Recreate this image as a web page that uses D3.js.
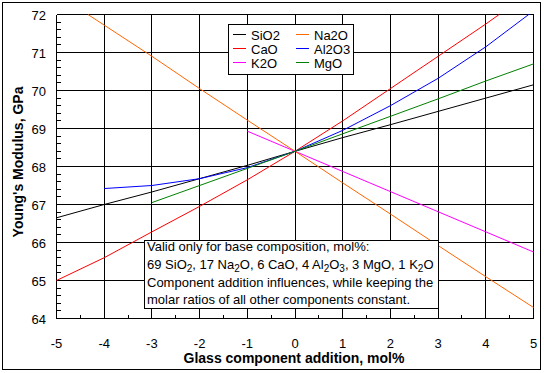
<html>
<head>
<script src="https://d3js.org/d3.v7.min.js"></script>
<style>
body { margin:0; background:#fff; }
text { font-family: "Liberation Sans", Arial, sans-serif; }
</style>
</head>
<body>
<script>
// data
var xFull  = [-5, -4, -3, -2, -1, 0, 1, 2, 3, 4, 5];
var sio2   = [66.65, 67.0, 67.33, 67.68, 68.03, 68.4, 68.76, 69.1, 69.45, 69.8, 70.15];
var caoX   = [-5, -4, -3, -2, -1, 0, 1, 2, 3, 4, 4.28];
var cao    = [65.0, 65.6, 66.28, 66.95, 67.65, 68.4, 69.2, 70.05, 70.9, 71.75, 72.0];
var na2oX  = [-4.34, -4, -3, -2, -1, 0, 1, 2, 3, 4, 5];
var na2o   = [72.0, 71.72, 70.9, 70.05, 69.22, 68.4, 67.57, 66.75, 65.92, 65.1, 64.29];
var al2o3X = [-4, -3, -2, -1, 0, 1, 2, 3, 4, 4.9];
var al2o3  = [67.42, 67.5, 67.68, 67.97, 68.4, 68.95, 69.6, 70.32, 71.15, 72.0];
var mgoX   = [-3, -2, -1, 0, 1, 2, 3, 4, 5];
var mgo    = [67.05, 67.5, 67.95, 68.4, 68.86, 69.32, 69.78, 70.25, 70.7];
var k2oX   = [-1, 0, 1, 2, 3, 4, 5];
var k2o    = [68.93, 68.4, 67.87, 67.34, 66.81, 66.28, 65.75];

var names  = ["SiO2", "CaO", "K2O", "Na2O", "Al2O3", "MgO"];
var colors = ["#000000", "#ff0000", "#ff00ff", "#ff6600", "#0000ff", "#008000"];
var seriesX = [xFull, caoX, k2oX, na2oX, al2o3X, mgoX];
var seriesY = [sio2, cao, k2o, na2o, al2o3, mgo];

var xTicks = [-5, -4, -3, -2, -1, 0, 1, 2, 3, 4, 5];
var yTicks = [64, 65, 66, 67, 68, 69, 70, 71, 72];

var w = 544, h = 373;
var svg = d3.select("body").append("svg").attr("width", w).attr("height", h);

// outer frame
svg.append("rect").attr("x", 2.5).attr("y", 2.5).attr("width", 538).attr("height", 367)
  .attr("fill", "none").attr("stroke", "#000");

var x = d3.scaleLinear().domain([-5, 5]).range([56.5, 533.5]);
var y = d3.scaleLinear().domain([64, 72]).range([318.5, 14.5]);

var g = svg.append("g").attr("shape-rendering", "crispEdges");

// grid
g.selectAll(".vg").data(xTicks).enter().append("line")
  .attr("x1", function(d){ return Math.round(x(d) - 0.5) + 0.5; })
  .attr("x2", function(d){ return Math.round(x(d) - 0.5) + 0.5; })
  .attr("y1", y(64)).attr("y2", y(72)).attr("stroke", "#000");
g.selectAll(".hg").data(yTicks).enter().append("line")
  .attr("y1", function(d){ return Math.round(y(d) - 0.5) + 0.5; })
  .attr("y2", function(d){ return Math.round(y(d) - 0.5) + 0.5; })
  .attr("x1", x(-5)).attr("x2", x(5)).attr("stroke", "#000");

// minor ticks
g.selectAll(".xm").data(d3.range(-4.5, 5, 1)).enter().append("line")
  .attr("x1", function(d){ return Math.round(x(d) - 0.5) + 0.5; })
  .attr("x2", function(d){ return Math.round(x(d) - 0.5) + 0.5; })
  .attr("y1", y(64)).attr("y2", y(64) - 4).attr("stroke", "#000");
g.selectAll(".ym").data(d3.range(64.2, 72, 0.2)).enter().append("line")
  .attr("y1", function(d){ return Math.round(y(d) - 0.5) + 0.5; })
  .attr("y2", function(d){ return Math.round(y(d) - 0.5) + 0.5; })
  .attr("x1", x(-5)).attr("x2", x(-5) + 4).attr("stroke", "#000");

// tick labels
svg.selectAll(".xl").data(xTicks).enter().append("text")
  .attr("x", function(d){ return x(d); }).attr("y", 348)
  .attr("text-anchor", "middle").attr("font-size", 13)
  .text(function(d){ return d; });
svg.selectAll(".yl").data(yTicks).enter().append("text")
  .attr("x", 46).attr("y", function(d){ return y(d) + 5; })
  .attr("text-anchor", "end").attr("font-size", 13)
  .text(function(d){ return d; });

// axis titles
svg.append("text").attr("x", 294).attr("y", 363).attr("text-anchor", "middle")
  .attr("font-size", 14).attr("font-weight", "bold").text("Glass component addition, mol%");
svg.append("text").attr("transform", "translate(23,162) rotate(-90)").attr("text-anchor", "middle")
  .attr("font-size", 14).attr("font-weight", "bold").text("Young's Modulus, GPa");

// series
var line = d3.line().x(function(d){ return x(d[0]); }).y(function(d){ return y(d[1]); });
seriesX.forEach(function(xs, i){
  var pts = xs.map(function(v, j){ return [v, seriesY[i][j]]; });
  svg.append("path").attr("d", line(pts)).attr("fill", "none")
    .attr("stroke", colors[i]).attr("stroke-width", 1);
});

// legend
var lg = svg.append("g");
lg.append("rect").attr("x", 228.5).attr("y", 24.5).attr("width", 125).attr("height", 49.5)
  .attr("fill", "#fff").attr("stroke", "#000").attr("shape-rendering", "crispEdges");
names.forEach(function(n, i){
  var col = Math.floor(i / 3), row = i % 3;
  var lx = 233 + col * 63, ly = 34.5 + row * 14;
  lg.append("line").attr("x1", lx).attr("x2", lx + 13).attr("y1", ly).attr("y2", ly)
    .attr("stroke", colors[i]).attr("shape-rendering", "crispEdges");
  lg.append("text").attr("x", lx + 18).attr("y", ly + 5).attr("font-size", 13).text(n);
});

// note box
var nb = svg.append("g");
nb.append("rect").attr("x", 144.5).attr("y", 240.5).attr("width", 294).attr("height", 68)
  .attr("fill", "#fff").attr("stroke", "#000").attr("shape-rendering", "crispEdges");
var tx = 147;
nb.append("text").attr("x", tx).attr("y", 251).attr("font-size", 13).text("Valid only for base composition, mol%:");
var t2 = nb.append("text").attr("x", tx).attr("y", 268.5).attr("font-size", 13);
var parts = [["69 SiO",""],["2","s"],[", 17 Na",""],["2","s"],["O, 6 CaO, 4 Al",""],["2","s"],["O",""],["3","s"],[", 3 MgO, 1 K",""],["2","s"],["O",""]];
parts.forEach(function(p, i){
  var prev = i > 0 ? parts[i-1][1] : "";
  var dy = 0;
  if (p[1] === "s" && prev !== "s") dy = 3;
  if (p[1] !== "s" && prev === "s") dy = -3;
  var ts = t2.append("tspan").attr("dy", dy).text(p[0]);
  if (p[1] === "s") ts.attr("font-size", 10);
});
nb.append("text").attr("x", tx).attr("y", 286.5).attr("font-size", 13).text("Component addition influences, while keeping the");
nb.append("text").attr("x", tx).attr("y", 304).attr("font-size", 13).text("molar ratios of all other components constant.");
</script>
</body>
</html>
